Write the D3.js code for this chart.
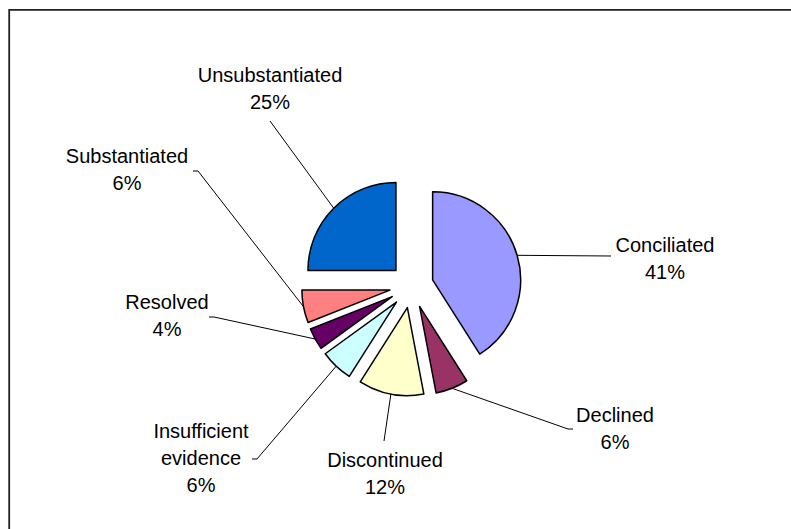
<!doctype html>
<html>
  <head>
    <meta charset="utf-8">
    <title>Complaint outcomes</title>
    <script src="https://cdn.jsdelivr.net/npm/d3@7/dist/d3.min.js"></script>
    <style>
      html, body { margin: 0; padding: 0; background: #fff; }
      svg { display: block; }
      .label {
        font: 20px Arial, "Liberation Sans", sans-serif;
        fill: #000;
        text-anchor: middle;
      }
      .slice { stroke: #000; stroke-width: 1.5px; stroke-linejoin: round; }
      .leader { fill: none; stroke: #000; stroke-width: 1px; }
    </style>
  </head>
  <body>
    <svg id="chart" width="791" height="529"></svg>

    <script>
      // data, clockwise from 12 o'clock
      var categories = ["Conciliated", "Declined", "Discontinued", "Insufficient evidence",
                        "Resolved", "Substantiated", "Unsubstantiated"];
      var percents = [41, 6, 12, 6, 4, 6, 25];
      var colors = ["#9999ff", "#993366", "#ffffcc", "#ccffff", "#660066", "#ff8080", "#0066cc"];

      // label layout (centre x, first baseline, leader start, elbow length), dragged around like in excel
      var labelLayout = [
        { x: 665, y: 252, lx: 611, ly: 256, elbow: 0 },
        { x: 615, y: 422, lx: 573, ly: 429, elbow: -5 },
        { x: 385, y: 467, lx: 384, ly: 441, elbow: 0 },
        { x: 201, y: 438, lx: 252, ly: 459, elbow: 5 },
        { x: 167, y: 309, lx: 209, ly: 317, elbow: 5 },
        { x: 127, y: 163, lx: 193, ly: 171, elbow: 5 },
        { x: 270, y: 82,  lx: 270, ly: 121, elbow: 0 }
      ];

      var svg = d3.select("#chart"),
          cx = 411.5, cy = 286,
          radius = 88,
          explode = 22,
          lineHeight = 27;

      // chart area frame (runs off the right and bottom)
      svg.append("path")
          .attr("d", "M9.2,540 L9.2,9.8 L800,9.8")
          .attr("fill", "none")
          .attr("stroke", "#222")
          .attr("stroke-width", 1.8);

      var pie = d3.pie()
          .sort(null)
          .value(function(d) { return d; });

      var arc = d3.arc()
          .innerRadius(0)
          .outerRadius(radius);

      var arcs = pie(percents);

      function mid(d) { return (d.startAngle + d.endAngle) / 2; }
      function offset(d, k) {
        var a = mid(d);
        return [Math.sin(a) * k, -Math.cos(a) * k];
      }

      var g = svg.append("g").attr("transform", "translate(" + cx + "," + cy + ")");

      // leader lines first so slices sit on top
      g.selectAll("polyline")
        .data(arcs)
        .enter().append("polyline")
          .attr("class", "leader")
          .attr("points", function(d, i) {
            var o = offset(d, explode + radius),
                L = labelLayout[i],
                p0 = [L.lx - cx, L.ly - cy],
                p1 = [L.lx - cx + L.elbow, L.ly - cy];
            return [p0, p1, o].map(function(p) { return p.join(","); }).join(" ");
          });

      g.selectAll("path.slice")
        .data(arcs)
        .enter().append("path")
          .attr("class", "slice")
          .attr("fill", function(d, i) { return colors[i]; })
          .attr("transform", function(d) { return "translate(" + offset(d, explode) + ")"; })
          .attr("d", arc);

      // labels: name (may wrap) + percent
      var labels = svg.selectAll("text.label")
        .data(arcs)
        .enter().append("text")
          .attr("class", "label")
          .attr("x", function(d, i) { return labelLayout[i].x; })
          .attr("y", function(d, i) { return labelLayout[i].y; });

      labels.each(function(d, i) {
        var t = d3.select(this),
            lines = categories[i] === "Insufficient evidence" ? ["Insufficient", "evidence"] : [categories[i]];
        lines.push(percents[i] + "%");
        lines.forEach(function(s, j) {
          t.append("tspan")
            .attr("x", labelLayout[i].x)
            .attr("y", labelLayout[i].y + j * lineHeight)
            .text(s);
        });
      });
    </script>
  </body>
</html>
